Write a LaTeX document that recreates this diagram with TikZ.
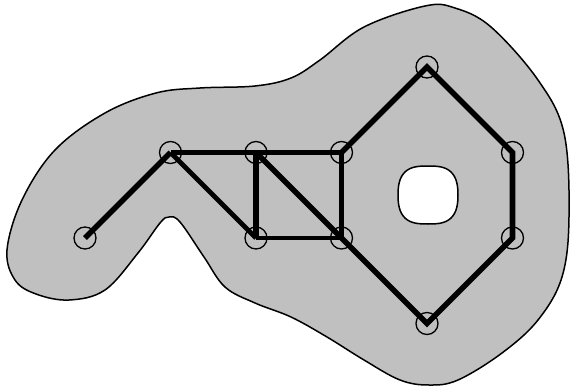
\documentclass[tikz,border=0pt]{standalone}
\usepackage{xcolor}
\usepackage{tikz}
\usetikzlibrary{positioning}
\definecolor{blobgray}{RGB}{192,192,192}
\tikzset{
  vert/.style={
    draw,
    circle,
    line width=1.3pt,
    minimum size=22pt,
    inner sep=0pt
  },
  region/.style={draw, line width=1.5pt, fill=blobgray, even odd rule},
  edge/.style={line width=5.6pt, line join=miter},
  edgethin/.style={edge, line width=4.8pt}
}

\begin{document}
\begin{tikzpicture}[x=1pt, y=-1pt, node distance=85.5pt and 85.5pt, on grid]
\useasboundingbox (0,0) rectangle (571,388);

% Region with a hole
\path[region]
  plot[smooth cycle, tension=0.6] coordinates {
    (425,6) (364,27) (320,60) (291,78) (255,86) (200,88) (156,93)
    (105,113) (55,150) (22,200) (7,250) (15,280) (36,294) (69,300)
    (105,290) (138,253) (160,223) (169,217) (180,222) (204,257)
    (225,287) (255,303) (291,317) (327,337) (364,360) (400,380)
    (429,385) (458,380) (502,353) (538,320) (562,277) (569,217)
    (564,133) (538,80) (491,27) (455,8)}
  plot[smooth cycle, tension=0.7] coordinates {
    (428,166) (451,172) (458,195) (451,218) (428,224)
    (405,218) (398,195) (405,172)};

% Vertices
\node[vert] (tail) at (85,238) {};
\node[vert, above right=of tail] (fork) {};
\node[vert, right=of fork] (sqtl) {};
\node[vert, right=of sqtl] (sqtr) {};
\node[vert, below=of sqtl] (sqbl) {};
\node[vert, right=of sqbl] (sqbr) {};
\node[vert, above right=of sqtr] (hextop) {};
\node[vert, below right=of hextop] (hexru) {};
\node[vert, below=of hexru] (hexrd) {};
\node[vert, below left=of hexrd] (hexbot) {};

% Edges
\draw[edge] (tail.center) -- (fork.center);
\draw[edgethin] (fork.center) -- (sqtl.center);
\draw[edge] (sqtl.center) -- (sqtr.center);
\draw[edgethin] (fork.center) -- (sqbl.center);
\draw[edge] (sqtl.center) -- (sqbl.center);
\draw[edge] (sqtl.center) -- (sqbr.center);
\draw[edgethin] (sqbl.center) -- (sqbr.center);
\draw[edge] (sqtr.center) -- (sqbr.center);

% Hexagon
\draw[edge] (sqtr.center) -- (hextop.center) -- (hexru.center)
  -- (hexrd.center) -- (hexbot.center) -- (sqbr.center);

\end{tikzpicture}
\end{document}
